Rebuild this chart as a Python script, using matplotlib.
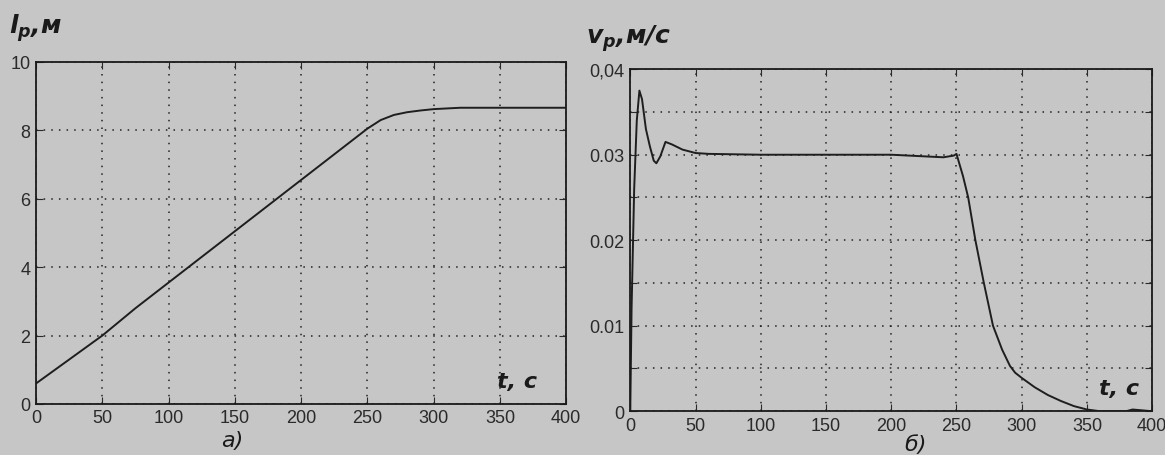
import numpy as np
import matplotlib.pyplot as plt

plt.rcParams['font.family'] = ['Liberation Sans Narrow', 'Liberation Sans', 'DejaVu Sans']
plt.rcParams['mathtext.fontset'] = 'custom'
plt.rcParams['mathtext.it'] = 'DejaVu Sans:italic:bold'
plt.rcParams['mathtext.rm'] = 'DejaVu Sans:italic:bold'

# перемещение l_p(t)
t_l = [0, 25, 50, 75, 100, 125, 150, 175, 200, 225, 240, 250, 260, 270, 280,
       290, 300, 310, 320, 350, 400]
l_p = [0.6, 1.3, 2.0, 2.8, 3.55, 4.3, 5.05, 5.8, 6.55, 7.3, 7.75, 8.05, 8.3,
       8.45, 8.53, 8.58, 8.62, 8.64, 8.66, 8.66, 8.66]

# скорость v_p(t)
t_v = [0, 1, 3, 5, 7, 9, 12, 15, 18, 20, 23, 27, 32, 40, 50, 60, 100,
       150, 200, 240, 248, 250, 255, 259, 264.5, 271, 278, 285, 291, 295,
       300, 310, 320, 330, 340, 350, 360, 380, 385, 400]
v_p = [0.0, 0.012, 0.026, 0.034, 0.0375, 0.0365, 0.033, 0.031, 0.0293,
       0.029, 0.0298, 0.0315, 0.0312, 0.0306, 0.0302, 0.0301, 0.0300,
       0.0300, 0.0300, 0.0297, 0.0299, 0.0301, 0.0275, 0.0250, 0.0200,
       0.0150, 0.0100, 0.0072, 0.0053, 0.0045, 0.0039, 0.0028, 0.0019,
       0.0012, 0.0006, 0.0002, 0.0, 0.0, 0.0002, 0.0]

bg = '#c6c6c6'

fig = plt.figure(figsize=(11.65, 4.56), dpi=100, facecolor=bg)
ax1 = fig.add_axes([0.031, 0.112, 0.455, 0.75], facecolor=bg)
ax2 = fig.add_axes([0.541, 0.096, 0.448, 0.75], facecolor=bg)


def style(ax):
    ax.grid(True, color='#222222', linestyle=(0, (1, 4)), linewidth=1.1)
    ax.tick_params(direction='in', length=5, top=True, right=True,
                   labelsize=13, colors='#2a2a2a', pad=4)
    for s in ax.spines.values():
        s.set_linewidth(1.3)
        s.set_color('#1a1a1a')


ax1.plot(t_l, l_p, color='#1e1e1e', linewidth=1.4)
ax1.set_xlim(0, 400)
ax1.set_ylim(0, 10)
ax1.set_xticks(np.arange(0, 401, 50))
ax1.set_yticks(np.arange(0, 11, 2))
style(ax1)

ax2.plot(t_v, v_p, color='#1e1e1e', linewidth=1.4)
ax2.set_xlim(0, 400)
ax2.set_ylim(0, 0.04)
ax2.set_xticks(np.arange(0, 401, 50))
ax2.set_yticks(np.arange(0, 0.0401, 0.005))
ax2.set_yticklabels(['0', '', '0.01', '', '0.02', '', '0.03', '', '0,04'])
style(ax2)

lab_kw = dict(fontsize=18, fontweight='bold', fontstyle='italic',
              color='#1a1a1a', family=['DejaVu Sans'])
fig.text(0.008, 0.925, r'$l_p$,м', **lab_kw)
fig.text(0.503, 0.905, r'$v_p$,м/с', **lab_kw)
t_kw = dict(lab_kw, fontsize=16)
ax1.text(0.945, 0.05, 't, с', transform=ax1.transAxes, ha='right', **t_kw)
ax2.text(0.975, 0.05, 't, с', transform=ax2.transAxes, ha='right', **t_kw)
fig.text(0.19, 0.02, 'а)', fontsize=16, fontstyle='italic', color='#1a1a1a',
         family=['DejaVu Sans'])
fig.text(0.776, 0.01, 'б)', fontsize=16, fontstyle='italic', color='#1a1a1a',
         family=['DejaVu Sans'])

fig.savefig('out.png', dpi=100, facecolor=bg)
